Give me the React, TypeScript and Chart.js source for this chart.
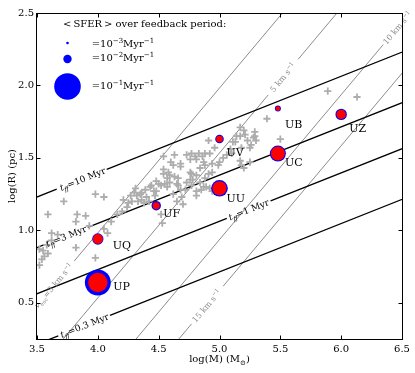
import React, { useEffect, useRef } from "react";
import { Chart, registerables } from "chart.js";

Chart.register(...registerables);

// ---------------- data ----------------
const clusterNames = ["UP", "UQ", "UF", "UU", "UV", "UC", "UB", "UZ"];
const clusterLogM = [4.0, 4.0, 4.48, 5.0, 5.0, 5.48, 5.48, 6.0];
const clusterLogR = [0.64, 0.94, 1.17, 1.29, 1.63, 1.53, 1.84, 1.8];
// <SFER> over feedback period (Myr^-1): outer blue discs
const clusterSferOuter = [0.095, 0.018, 0.0125, 0.039, 0.0105, 0.036, 0.0051, 0.0184];
// inner red discs
const clusterSferInner = [0.053, 0.014, 0.0069, 0.0277, 0.0062, 0.0277, 0.003, 0.0125];

const legendSfer = [1e-3, 1e-2, 1e-1];
const legendExponents = ["\u22123", "\u22122", "\u22121"];

const freefallTimes = ["10", "3", "1", "0.3"]; // Myr
const freefallIntercepts = [0.063, -0.286, -0.604, -0.953]; // logR at logM=0 (slope 1/3)
const velocityLabels = ["3", "5", "10", "15"]; // km/s
const velocityIntercepts = [-3.018, -3.466, -4.064, -4.416]; // logR at logM=0 (slope 1)

const xTicks = [3.5, 4.0, 4.5, 5.0, 5.5, 6.0, 6.5];
const yTicks = [0.5, 1.0, 1.5, 2.0, 2.5];

const sampleLogM = [
  3.52, 3.55, 3.59, 3.56, 3.52, 3.58, 3.62, 3.62, 3.67, 3.54,
  3.59, 3.72, 3.83, 3.9, 3.82, 3.93, 3.82, 3.98, 4.05, 3.98,
  4.16, 4.11, 4.05, 4.08, 4.53, 4.52, 4.2, 4.24, 4.28, 4.32,
  4.36, 4.4, 4.44, 4.48, 4.57, 4.62, 4.66, 4.72, 4.77, 4.81,
  4.87, 4.21, 4.25, 4.3, 4.33, 4.36, 4.38, 4.42, 4.43, 4.46,
  4.48, 4.52, 4.57, 4.54, 4.58, 4.62, 4.63, 4.66, 4.68, 4.59,
  4.7, 4.69, 4.65, 4.31, 4.35, 4.27, 4.39, 4.5, 4.47, 4.55,
  4.59, 4.65, 4.68, 4.73, 4.76, 4.77, 4.81, 4.85, 4.92, 4.73,
  4.77, 4.8, 4.83, 4.86, 4.76, 4.81, 4.88, 4.76, 4.81, 4.78,
  4.84, 4.88, 4.91, 4.87, 4.92, 4.96, 4.91, 4.88, 4.94, 4.84,
  5.0, 5.06, 5.09, 5.14, 5.13, 5.21, 5.29, 5.23, 5.3, 5.26,
  5.18, 5.17, 5.18, 5.25, 4.89, 4.94, 4.63, 4.6, 4.68, 4.54,
  4.94, 4.99, 5.03, 4.54, 5.89, 6.13, 5.39, 5.5, 5.29, 5.28,
  5.25, 5.17, 5.2, 5.11, 5.1, 5.2, 5.17,
];
const sampleLogR = [
  0.76, 0.86, 0.84, 0.82, 0.87, 0.9, 0.93, 0.98, 0.97, 0.8,
  1.11, 1.2, 1.11, 1.1, 1.06, 1.03, 0.88, 1.25, 1.23, 0.81,
  1.11, 1.06, 1.01, 0.98, 1.05, 1.11, 1.13, 1.16, 1.2, 1.24,
  1.21, 1.23, 1.31, 1.27, 1.3, 1.25, 1.31, 1.28, 1.31, 1.27,
  1.3, 1.21, 1.19, 1.26, 1.2, 1.26, 1.19, 1.2, 1.3, 1.27,
  1.34, 1.31, 1.36, 1.39, 1.4, 1.45, 1.37, 1.36, 1.46, 1.38,
  1.18, 1.23, 1.2, 1.29, 1.25, 1.24, 1.28, 1.32, 1.24, 1.32,
  1.33, 1.32, 1.28, 1.33, 1.35, 1.39, 1.24, 1.28, 1.29, 1.52,
  1.53, 1.51, 1.53, 1.51, 1.49, 1.49, 1.53, 1.4, 1.38, 1.35,
  1.33, 1.36, 1.39, 1.47, 1.53, 1.57, 1.62, 1.45, 1.46, 1.43,
  1.47, 1.52, 1.56, 1.65, 1.61, 1.66, 1.65, 1.62, 1.62, 1.59,
  1.57, 1.48, 1.45, 1.47, 1.3, 1.27, 1.52, 1.47, 1.44, 1.42,
  1.4, 1.45, 1.5, 1.51, 1.96, 1.92, 1.77, 1.63, 1.68, 1.64,
  1.57, 1.65, 1.69, 1.61, 1.53, 1.43, 1.71,
];

// ---------------- layout / style ----------------
const FF_SLOPE = 1 / 3;
const V_SLOPE = 1;
const ffLabelAt = [3.874, 3.74, 5.24, 3.89];
const ffGaps = [[3.662, 4.073], [3.56, 3.917], [5.06, 5.42], [3.675, 4.1]];
const vLabelAt = [3.636, 5.521, 6.462, 4.894];
const vGaps = [[3.3, 3.806], [5.4, 5.647], [6.346, 6.9], [4.77, 5.03]];
const labelOffsets = [[15.5, 4], [15, 6], [7, 7], [7, 10], [7, 13], [7, 8], [7, 15], [8, 14]];
const FONT = '"DejaVu Serif", serif';
const R_REF = 13.3; // px radius of the 1e-1 legend disc
const sferRadius = (v: number) => R_REF * Math.sqrt(v / 0.1);

type Seg = { t: string; m?: "sub" | "sup"; it?: boolean };
function segFont(fs: number, s: Seg) {
  const size = s.m ? fs * 0.7 : fs;
  return `${s.it ? "italic " : ""}${size}px ${FONT}`;
}
function measureRich(ctx: CanvasRenderingContext2D, segs: Seg[], fs: number) {
  let w = 0;
  for (const s of segs) {
    ctx.font = segFont(fs, s);
    w += ctx.measureText(s.t).width;
  }
  return w;
}
function drawRich(ctx: CanvasRenderingContext2D, segs: Seg[], x: number, y: number, fs: number, align: "left" | "center") {
  const w = measureRich(ctx, segs, fs);
  let cx = align === "center" ? x - w / 2 : x;
  ctx.textAlign = "left";
  ctx.textBaseline = "alphabetic";
  for (const s of segs) {
    ctx.font = segFont(fs, s);
    const dy = s.m === "sup" ? -fs * 0.4 : s.m === "sub" ? fs * 0.25 : 0;
    ctx.fillText(s.t, cx, y + dy);
    cx += ctx.measureText(s.t).width;
  }
}

function linePoints(slope: number, b: number, gap: number[]) {
  const f = (x: number) => slope * x + b;
  return [
    { x: 3.3, y: f(3.3) },
    { x: gap[0], y: f(gap[0]) },
    { x: (gap[0] + gap[1]) / 2, y: null as any },
    { x: gap[1], y: f(gap[1]) },
    { x: 6.9, y: f(6.9) },
  ];
}

const annotPlugin = {
  id: "annot",
  afterDatasetsDraw(chart: any) {
    const { ctx, chartArea: ca, scales } = chart;
    const xs = scales.x;
    const ys = scales.y;
    ctx.save();
    // t_ff labels
    freefallTimes.forEach((t, i) => {
      const xc = ffLabelAt[i];
      const yc = FF_SLOPE * xc + freefallIntercepts[i];
      const px = xs.getPixelForValue(xc);
      const py = ys.getPixelForValue(yc);
      const ang = Math.atan2(ys.getPixelForValue(yc + FF_SLOPE) - py, xs.getPixelForValue(xc + 1) - px);
      ctx.save();
      ctx.translate(px, py);
      ctx.rotate(ang);
      ctx.fillStyle = "#000";
      drawRich(ctx, [{ t: "t", it: true }, { t: "ff", m: "sub", it: true }, { t: "=" + t + " Myr" }], 0, 3.2, 9, "center");
      ctx.restore();
    });
    // velocity labels
    velocityLabels.forEach((v, i) => {
      const xc = vLabelAt[i];
      const yc = V_SLOPE * xc + velocityIntercepts[i];
      const px = xs.getPixelForValue(xc);
      const py = ys.getPixelForValue(yc);
      const ang = Math.atan2(ys.getPixelForValue(yc + V_SLOPE) - py, xs.getPixelForValue(xc + 1) - px);
      ctx.save();
      ctx.translate(px, py);
      ctx.rotate(ang);
      ctx.fillStyle = "#8a8a8a";
      const segs: Seg[] = i === 0
        ? [{ t: "v", it: true }, { t: "esc", m: "sub" }, { t: "=" + v + " km s" }, { t: "\u22121", m: "sup" }]
        : [{ t: v + " km s" }, { t: "\u22121", m: "sup" }];
      drawRich(ctx, segs, 0, 2.8, 8, "center");
      ctx.restore();
    });
    // cluster names
    ctx.fillStyle = "#000";
    clusterNames.forEach((n, i) => {
      const px = xs.getPixelForValue(clusterLogM[i]) + labelOffsets[i][0];
      const py = ys.getPixelForValue(clusterLogR[i]) + labelOffsets[i][1];
      drawRich(ctx, [{ t: n }], px, py + 4, 11, "left");
    });
    // legend
    const lx = ca.left;
    const ly = ca.top;
    drawRich(ctx, [{ t: "<\u2009SFER\u2009> over feedback period:" }], lx + 26, ly + 14, 10, "left");
    const rowCircleY = [30, 46, 73.5];
    const rowTextY = [34, 48, 76];
    legendSfer.forEach((s, i) => {
      ctx.beginPath();
      ctx.fillStyle = "#0000ff";
      ctx.arc(lx + 30.5, ly + rowCircleY[i], sferRadius(s), 0, Math.PI * 2);
      ctx.fill();
      ctx.fillStyle = "#000";
      drawRich(ctx, [{ t: "=10" }, { t: legendExponents[i], m: "sup" }, { t: "Myr" }, { t: "\u22121", m: "sup" }], lx + 54.7, ly + rowTextY[i], 10, "left");
    });
    ctx.restore();
  },
  afterDraw(chart: any) {
    const { ctx, chartArea: ca, scales } = chart;
    const xs = scales.x;
    const ys = scales.y;
    ctx.save();
    const L = Math.round(ca.left) - 0.5;
    const R = Math.round(ca.right) + 0.5;
    const T = Math.round(ca.top) + 0.5;
    const B = Math.round(ca.bottom) + 0.5;
    ctx.strokeStyle = "#000";
    ctx.lineWidth = 1;
    ctx.strokeRect(L, T, R - L, B - T);
    ctx.beginPath();
    xTicks.forEach((v) => {
      const p = Math.round(xs.getPixelForValue(v)) + 0.5;
      ctx.moveTo(p, B); ctx.lineTo(p, B - 4);
      ctx.moveTo(p, T); ctx.lineTo(p, T + 4);
    });
    yTicks.forEach((v) => {
      const p = Math.round(ys.getPixelForValue(v)) + 0.5;
      ctx.moveTo(L, p); ctx.lineTo(L + 4, p);
      ctx.moveTo(R, p); ctx.lineTo(R - 4, p);
    });
    ctx.stroke();
    // axis titles
    ctx.fillStyle = "#000";
    drawRich(ctx, [{ t: "log(M) (M" }, { t: "\u2299", m: "sub" }, { t: ")" }], (ca.left + ca.right) / 2, 362, 10, "center");
    ctx.save();
    ctx.translate(15, (ca.top + ca.bottom) / 2);
    ctx.rotate(-Math.PI / 2);
    drawRich(ctx, [{ t: "log(R) (pc)" }], 0, 0, 10, "center");
    ctx.restore();
    ctx.restore();
  },
};

export default function App() {
  const ref = useRef<HTMLCanvasElement | null>(null);
  useEffect(() => {
    document.body.style.margin = "0";
    const canvas = ref.current;
    if (!canvas) return;
    const datasets: any[] = [];
    datasets.push({
      label: "inner",
      data: clusterLogM.map((x, i) => ({ x, y: clusterLogR[i] })),
      backgroundColor: "#ff0000",
      borderWidth: 0,
      pointRadius: clusterSferInner.map(sferRadius),
      order: 0,
    });
    datasets.push({
      label: "outer",
      data: clusterLogM.map((x, i) => ({ x, y: clusterLogR[i] })),
      backgroundColor: "#0000ff",
      borderWidth: 0,
      pointRadius: clusterSferOuter.map(sferRadius),
      order: 1,
    });
    datasets.push({
      label: "sample",
      data: sampleLogM.map((x, i) => ({ x, y: sampleLogR[i] })),
      pointStyle: "cross",
      pointRadius: 3.6,
      borderColor: "#adadad",
      borderWidth: 1.8,
      backgroundColor: "#adadad",
      order: 2,
    });
    freefallIntercepts.forEach((b, i) => {
      datasets.push({
        label: "tff" + i,
        data: linePoints(FF_SLOPE, b, ffGaps[i]),
        showLine: true,
        spanGaps: false,
        borderColor: "#000",
        borderWidth: 1.3,
        pointRadius: 0,
        clip: 0,
        order: 3,
      });
    });
    velocityIntercepts.forEach((b, i) => {
      datasets.push({
        label: "v" + i,
        data: linePoints(V_SLOPE, b, vGaps[i]),
        showLine: true,
        spanGaps: false,
        borderColor: "#8c8c8c",
        borderWidth: 1,
        pointRadius: 0,
        clip: 0,
        order: 4,
      });
    });
    const tickFont = { family: FONT, size: 10 };
    const chart = new Chart(canvas, {
      type: "scatter",
      data: { datasets },
      options: {
        responsive: false,
        animation: false,
        devicePixelRatio: 1,
        events: [],
        layout: { padding: { left: 0, top: 9, right: 13, bottom: 0 } },
        plugins: { legend: { display: false }, tooltip: { enabled: false } },
        scales: {
          x: {
            type: "linear",
            min: 3.5,
            max: 6.5,
            afterBuildTicks: (s: any) => { s.ticks = xTicks.map((v) => ({ value: v })); },
            afterFit: (s: any) => { s.height = 34; },
            grid: { display: false, drawTicks: false },
            border: { display: false },
            ticks: { font: tickFont, color: "#000", padding: 4, maxRotation: 0, autoSkip: false, callback: (v: any) => Number(v).toFixed(1) },
          },
          y: {
            type: "linear",
            min: 0.25,
            max: 2.5,
            afterBuildTicks: (s: any) => { s.ticks = yTicks.map((v) => ({ value: v })); },
            afterFit: (s: any) => { s.width = 37; },
            grid: { display: false, drawTicks: false },
            border: { display: false },
            ticks: { font: tickFont, color: "#000", padding: 3, autoSkip: false, callback: (v: any) => Number(v).toFixed(1) },
          },
        },
      } as any,
      plugins: [annotPlugin],
    });
    return () => chart.destroy();
  }, []);
  return <canvas ref={ref} width={415} height={373} style={{ display: "block" }} />;
}
